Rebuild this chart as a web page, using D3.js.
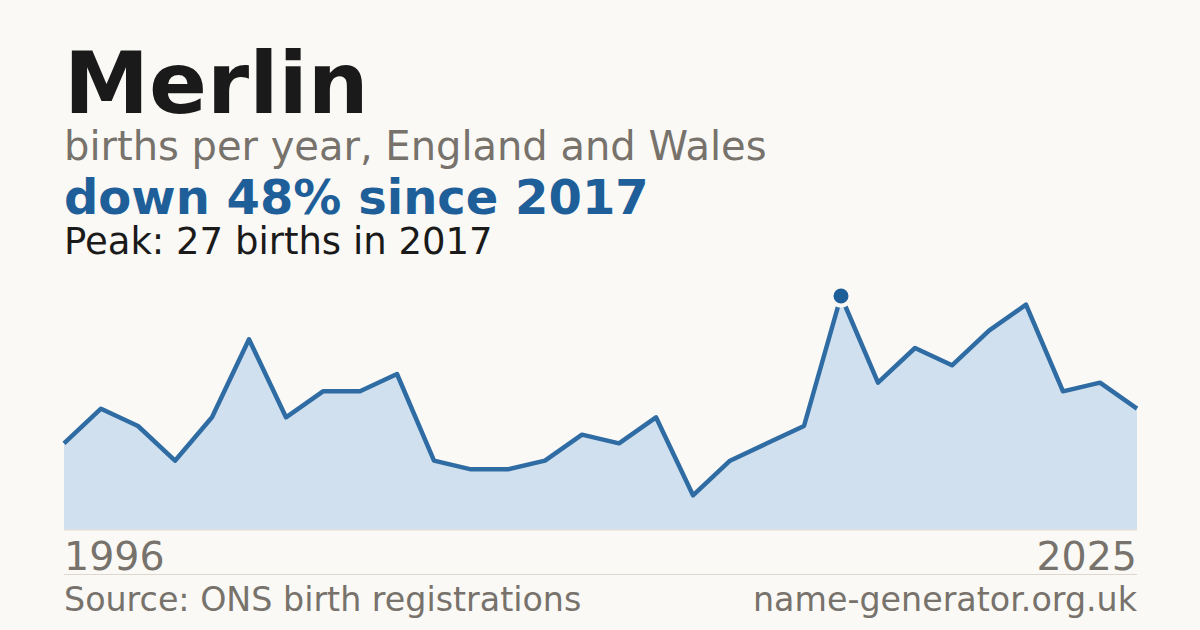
<!DOCTYPE html>
<html>
<head>
<meta charset="utf-8">
<script src="https://cdn.jsdelivr.net/npm/d3@7"></script>
<style>
  html, body { margin: 0; padding: 0; background: #faf9f5; }
  text { font-family: "DejaVu Sans", sans-serif; }
</style>
</head>
<body>
<svg id="chart" width="1200" height="630"></svg>
<script>
var width = 1200, height = 630

var years = d3.range(1996, 2026)
var births = [10, 14, 12, 8, 13, 22, 13, 16, 16, 18,
              8, 7, 7, 8, 11, 10, 13, 4, 8, 10,
              12, 27, 17, 21, 19, 23, 26, 16, 17, 14]
var endLabels = ["1996", "2025"]

var peakIdx = births.indexOf(d3.max(births))
var peakYear = years[peakIdx]
var lastVal = births[births.length - 1]
var change = Math.round((1 - lastVal / births[peakIdx]) * 100)

var svg = d3.select("#chart")

svg.append("rect").attr("width", width).attr("height", height).attr("fill", "#faf9f5")

var x = d3.scaleLinear().domain([1996, 2025]).range([64, 1137])
var y = d3.scaleLinear().domain([0, d3.max(births)]).range([530, 296])

// titles
svg.append("text").attr("x", 64).attr("y", 113)
  .style("font-size", "85.5px").style("font-weight", "bold").attr("fill", "#1a1a1a")
  .text("Merlin")
svg.append("text").attr("x", 64).attr("y", 160)
  .style("font-size", "40px").attr("fill", "#77726b")
  .text("births per year, England and Wales")
svg.append("text").attr("x", 64).attr("y", 214)
  .style("font-size", "48px").style("font-weight", "bold").attr("fill", "#1f5f99")
  .text("down " + change + "% since " + peakYear)
svg.append("text").attr("x", 64).attr("y", 254)
  .style("font-size", "37px").attr("fill", "#1a1a1a")
  .text("Peak: " + births[peakIdx] + " births in " + peakYear)

var data = years.map(function(d, i) { return {year: d, value: births[i]} })

var area = d3.area()
  .x(function(d) { return x(d.year) })
  .y0(y(0))
  .y1(function(d) { return y(d.value) })

var line = d3.line()
  .x(function(d) { return x(d.year) })
  .y(function(d) { return y(d.value) })

svg.append("path").datum(data).attr("d", area).attr("fill", "#d0e0ef")

svg.append("line")
  .attr("x1", 64).attr("x2", 1137).attr("y1", y(0)).attr("y2", y(0))
  .attr("stroke", "#e6dfd4").attr("stroke-width", 1)

svg.append("path").datum(data).attr("d", line)
  .attr("fill", "none").attr("stroke", "#2f6ca3").attr("stroke-width", 4.5)
  .attr("stroke-linejoin", "round")

svg.append("circle")
  .attr("cx", x(peakYear)).attr("cy", y(births[peakIdx])).attr("r", 9.5)
  .attr("fill", "#1f5f99").attr("stroke", "#faf9f5").attr("stroke-width", 4)

// end year labels
svg.append("text").attr("x", 64).attr("y", 570)
  .style("font-size", "39.5px").attr("fill", "#77726b").text(endLabels[0])
svg.append("text").attr("x", 1137).attr("y", 570).attr("text-anchor", "end")
  .style("font-size", "39.5px").attr("fill", "#77726b").text(endLabels[1])

svg.append("line")
  .attr("x1", 64).attr("x2", 1137).attr("y1", 574.5).attr("y2", 574.5)
  .attr("stroke", "#dcd8d0").attr("stroke-width", 1)

// footer
svg.append("text").attr("x", 64).attr("y", 611)
  .style("font-size", "33.3px").attr("fill", "#77726b").text("Source: ONS birth registrations")
svg.append("text").attr("x", 1137).attr("y", 611).attr("text-anchor", "end")
  .style("font-size", "33.3px").attr("fill", "#77726b").text("name-generator.org.uk")
</script>
</body>
</html>
